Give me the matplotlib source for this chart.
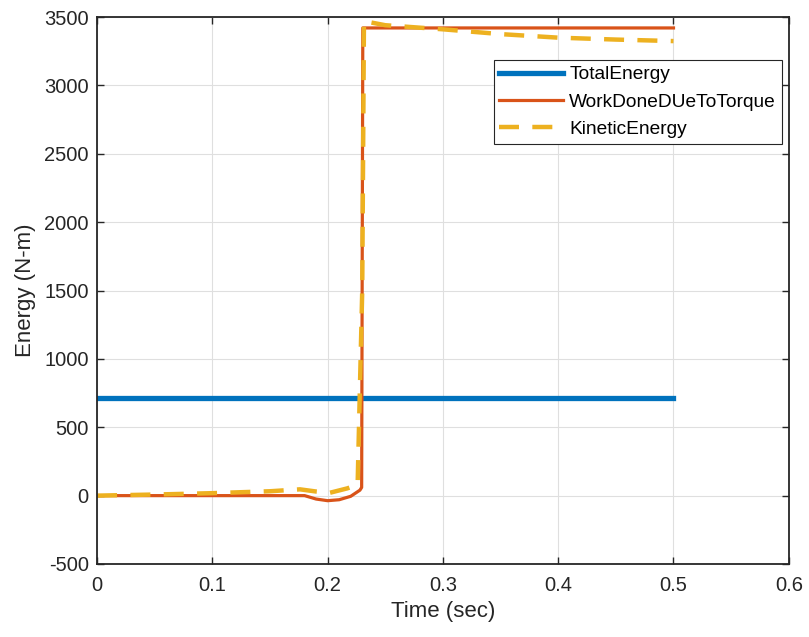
import numpy as np
import matplotlib.pyplot as plt

plt.rcParams['font.family'] = ['Liberation Sans', 'DejaVu Sans']
plt.rcParams['axes.unicode_minus'] = False

# values
t_total = [0.0, 0.5]
e_total = [712, 712]

t_work = [0.0, 0.05, 0.10, 0.15, 0.18, 0.19, 0.20, 0.21, 0.22, 0.228, 0.2295, 0.2305, 0.25, 0.30, 0.40, 0.50]
e_work = [0, 0, 0, 0, 0, -25, -37, -30, -5, 40, 60, 3420, 3420, 3420, 3420, 3420]

t_kin = [0.0, 0.05, 0.10, 0.15, 0.176, 0.19, 0.202, 0.217, 0.226, 0.2300, 0.2315, 0.25, 0.30, 0.35, 0.40, 0.45, 0.50]
e_kin = [0, 8, 18, 32, 46, 30, 21, 53, 80, 1500, 3470, 3440, 3410, 3375, 3349, 3335, 3324]

fig = plt.figure(figsize=(8.09, 6.37), dpi=100)
ax = fig.add_axes([0.12, 0.1146, 0.855, 0.8587])

ax.plot(t_total, e_total, color='#0072BD', linewidth=3.8, label='TotalEnergy')
ax.plot(t_work, e_work, color='#D95319', linewidth=2.3, label='WorkDoneDUeToTorque')
ax.plot(t_kin, e_kin, color='#EDB120', linewidth=3.2, linestyle=(0, (4.5, 3)),
        label='KineticEnergy')

ax.set_xlim(0, 0.6)
ax.set_ylim(-500, 3500)
ax.set_xticks(np.arange(0, 0.61, 0.1))
ax.set_xticklabels(['0', '0.1', '0.2', '0.3', '0.4', '0.5', '0.6'])
ax.set_yticks(np.arange(-500, 3501, 500))
ax.grid(True, color='#DFDFDF', linewidth=0.8)
ax.set_axisbelow(True)
ax.tick_params(direction='in', top=True, right=True, labelsize=14.5, length=5,
               width=1.0, colors='#262626')
ax.tick_params(axis='x', pad=9)
ax.tick_params(axis='y', pad=6)
for s in ax.spines.values():
    s.set_linewidth(1.3)
    s.set_color('#262626')

ax.set_xlabel('Time (sec)', fontsize=16, color='#262626', labelpad=4)
ax.set_ylabel('Energy (N-m)', fontsize=16, color='#262626', labelpad=6)

leg = ax.legend(loc='upper right', bbox_to_anchor=(0.99, 0.921), borderaxespad=0,
                fontsize=13.8, handlelength=3.3, fancybox=False, framealpha=1,
                edgecolor='#262626', borderpad=0.3, labelspacing=0.52,
                handletextpad=0.35)
leg.get_frame().set_linewidth(0.8)

fig.savefig('out.png', dpi=100)
